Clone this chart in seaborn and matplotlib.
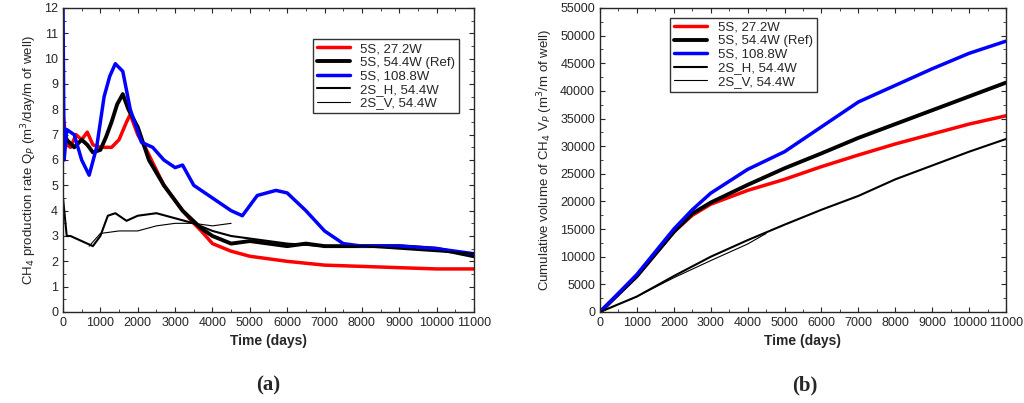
import matplotlib
matplotlib.use("Agg")
import matplotlib.pyplot as plt
import seaborn as sns
import pandas as pd
from matplotlib.ticker import MultipleLocator

sns.set_style("ticks")
plt.rcParams["font.family"] = "Liberation Sans"

labels = ["5S, 27.2W", "5S, 54.4W (Ref)", "5S, 108.8W", "2S_H, 54.4W", "2S_V, 54.4W"]
colors = ["#ff0000", "#000000", "#0000ff", "#000000", "#000000"]
widths = [2.5, 2.8, 2.5, 1.5, 0.8]

# Panel (a): production rate
rate_days = {
    labels[0]: [0,100,200,350,500,650,800,1000,1300,1500,1700,1800,2000,2200,2500,2700,3000,3200,3500,3700,4000,4500,5000,5500,6000,7000,8000,9000,10000,11000],
    labels[1]: [0,100,300,500,650,800,1000,1150,1300,1450,1600,1750,2000,2300,2700,3200,3700,4000,4500,5000,5500,6000,6500,7000,8000,9000,10000,11000],
    labels[2]: [0,30,100,300,500,700,900,1100,1250,1400,1600,1800,2100,2400,2700,3000,3200,3500,4000,4500,4800,5200,5700,6000,6500,7000,7500,8000,9000,10000,11000],
    labels[3]: [0,100,200,500,800,1000,1200,1400,1700,2000,2500,3000,3500,4000,4500,5000,5500,6000,7000,8000,9000,10000,11000],
    labels[4]: [700,1000,1500,2000,2500,3000,3500,4000,4500],
}
rate_vals = {
    labels[0]: [7.8,6.6,6.5,7.0,6.8,7.1,6.6,6.5,6.5,6.8,7.5,7.8,7.0,6.5,5.6,5.0,4.4,4.0,3.5,3.2,2.7,2.4,2.2,2.1,2.0,1.85,1.8,1.75,1.7,1.7],
    labels[1]: [7.3,6.8,6.5,6.8,6.6,6.3,6.4,6.9,7.5,8.2,8.6,8.0,7.3,6.0,5.0,4.0,3.3,3.0,2.7,2.8,2.7,2.6,2.7,2.6,2.6,2.6,2.5,2.2],
    labels[2]: [12,6.0,7.2,7.0,6.0,5.4,6.5,8.5,9.3,9.8,9.5,8.0,6.7,6.5,6.0,5.7,5.8,5.0,4.5,4.0,3.8,4.6,4.8,4.7,4.0,3.2,2.7,2.6,2.6,2.5,2.3],
    labels[3]: [4.5,3.0,3.0,2.8,2.6,3.0,3.8,3.9,3.6,3.8,3.9,3.7,3.5,3.2,3.0,2.9,2.8,2.7,2.6,2.6,2.5,2.4,2.3],
    labels[4]: [2.6,3.1,3.2,3.2,3.4,3.5,3.5,3.4,3.5],
}

# Panel (b): cumulative volume
cum_days = {
    labels[0]: [0,1000,2000,2500,3000,4000,5000,6000,7000,8000,9000,10000,11000],
    labels[1]: [0,1000,2000,2500,3000,4000,5000,6000,7000,8000,9000,10000,11000],
    labels[2]: [0,1000,2000,2500,3000,4000,5000,6000,7000,8000,9000,10000,11000],
    labels[3]: [0,1000,2000,3000,4000,5000,6000,7000,8000,9000,10000,11000],
    labels[4]: [0,1000,2000,3000,4000,4500],
}
cum_vals = {
    labels[0]: [0,6500,14500,17500,19500,22000,24000,26300,28400,30400,32200,34000,35500],
    labels[1]: [0,6500,14500,17800,19800,23000,26000,28700,31500,34000,36500,39000,41500],
    labels[2]: [0,6800,15000,18500,21500,25800,29000,33500,38000,41000,44000,46800,49000],
    labels[3]: [0,2800,6500,10000,13000,15800,18500,21000,24000,26500,29000,31300],
    labels[4]: [0,2800,6200,9300,12300,14200],
}

fig = plt.figure(figsize=(10.24, 4.03), dpi=100)
axa = fig.add_axes([63/1024, 1-312/403, 411/1024, 304/403])
axb = fig.add_axes([600/1024, 1-312/403, 406/1024, 304/403])

for ax, days, vals in [(axa, rate_days, rate_vals), (axb, cum_days, cum_vals)]:
    for lab, c, w in zip(labels, colors, widths):
        df = pd.DataFrame({"d": days[lab], "v": vals[lab]})
        sns.lineplot(data=df, x="d", y="v", ax=ax, color=c, lw=w, label=lab)
    ax.set_xlim(0, 11000)
    ax.xaxis.set_major_locator(MultipleLocator(1000))
    ax.xaxis.set_minor_locator(MultipleLocator(500))
    ax.tick_params(labelsize=9, direction="in", which="both", top=True, right=True)
    ax.set_xlabel("Time (days)", fontsize=10, fontweight="bold")
    leg = ax.legend(loc="upper right", bbox_to_anchor=(0.98, 0.92) if ax is axa else (0.55, 0.99),
                    fontsize=9.5, frameon=True, fancybox=False, edgecolor="black",
                    handlelength=2.5, borderpad=0.3, labelspacing=0.1)
    for s in ax.spines.values():
        s.set_linewidth(1)

axa.set_ylim(0, 12)
axa.yaxis.set_major_locator(MultipleLocator(1))
axa.yaxis.set_minor_locator(MultipleLocator(0.5))
axa.set_ylabel("CH$_4$ production rate Q$_P$ (m$^3$/day/m of well)", fontsize=9.5)
axb.set_ylim(0, 55000)
axb.yaxis.set_major_locator(MultipleLocator(5000))
axb.yaxis.set_minor_locator(MultipleLocator(2500))
axb.set_ylabel("Cumulative volume of CH$_4$ V$_P$ (m$^3$/m of well)", fontsize=9.5)

fig.text(268/1024, 1-385/403, "(a)", fontsize=15, fontweight="bold", ha="center", va="center", family="Liberation Serif")
fig.text(805/1024, 1-385/403, "(b)", fontsize=15, fontweight="bold", ha="center", va="center", family="Liberation Serif")

fig.savefig("out.png", dpi=100)
